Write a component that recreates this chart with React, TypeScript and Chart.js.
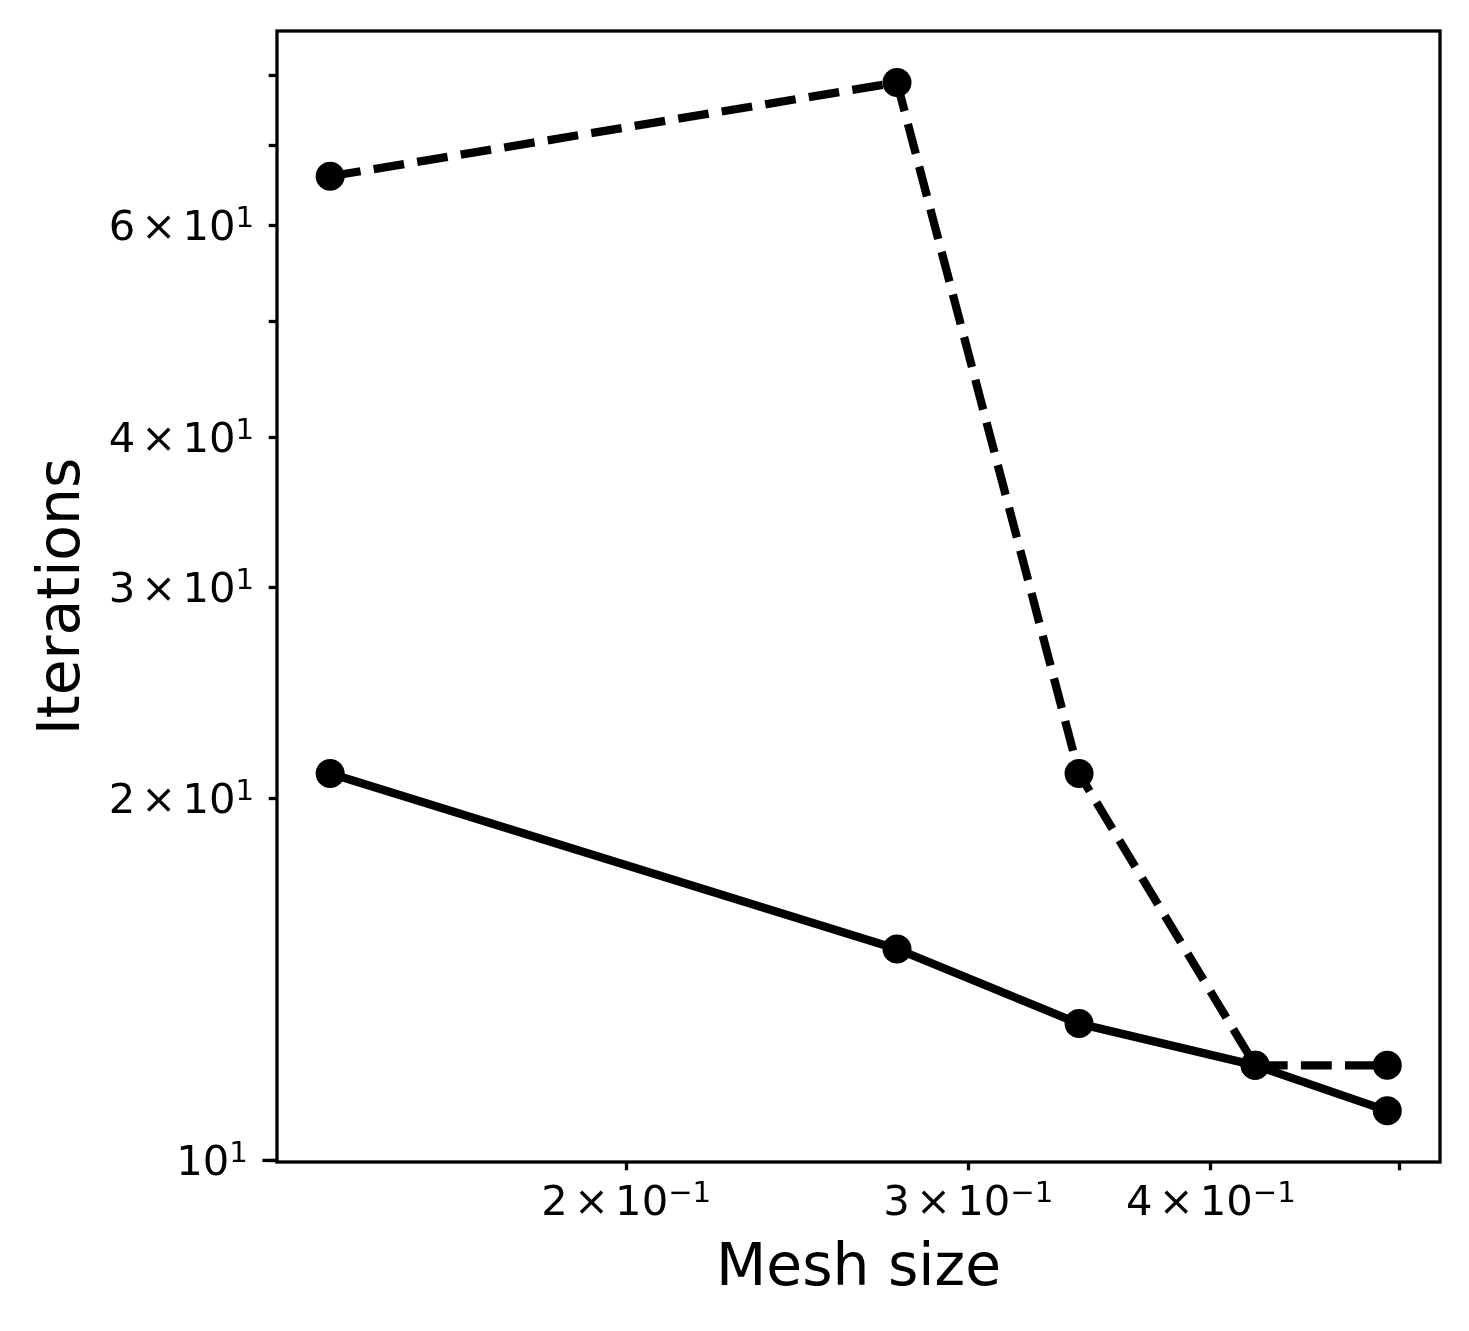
import React, { useEffect, useRef } from 'react';
import { Chart, registerables } from 'chart.js';

Chart.register(...registerables);

// ---- data ----
const meshSizes = [0.1408, 0.2757, 0.3421, 0.4215, 0.493];
const iterationsDashed = [66, 79, 21, 12, 12];
const iterationsSolid = [21, 15, 13, 12, 11];

const xTickValues = [0.2, 0.3, 0.4, 0.5];
const xTickLabels = ['2×10^-1', '3×10^-1', '4×10^-1', ''];
const yTickValues = [10, 20, 30, 40, 50, 60, 70, 80];
const yTickLabels = ['10^1', '2×10^1', '3×10^1', '4×10^1', '', '6×10^1', '', ''];

const xLimits = [0.1322, 0.5248];
const yLimits = [9.97, 87.2];

const xTitle = 'Mesh size';
const yTitle = 'Iterations';

const FONT = "'DejaVu Sans', sans-serif";
const TICK_FONT = 41.7;
const MAJOR_LEN = 14.6;
const MINOR_LEN = 8.3;
const PAD = 14.6;

// draws a label like "2×10^-1" in a mathtext-like way
function drawMathLabel(ctx: CanvasRenderingContext2D, label: string, x: number, baseline: number, align: 'center' | 'right') {
  if (!label) return;
  const [base, expRaw] = label.split('^');
  const exp = (expRaw || '').replace('-', '\u2212');
  const parts = base.split('×');
  const fs = TICK_FONT;
  const ss = fs * 0.7;
  const gap = 6.2;
  const segs: { t?: string; size?: number; dy?: number; gap?: number }[] = [];
  if (parts.length === 2) {
    segs.push({ t: parts[0], size: fs, dy: 0 });
    segs.push({ gap });
    segs.push({ t: '×', size: fs, dy: 0 });
    segs.push({ gap });
    segs.push({ t: parts[1], size: fs, dy: 0 });
  } else {
    segs.push({ t: parts[0], size: fs, dy: 0 });
  }
  if (exp) segs.push({ t: exp, size: ss, dy: -13 });
  let total = 0;
  const widths = segs.map((s) => {
    if (s.gap !== undefined) return s.gap;
    ctx.font = `${s.size}px ${FONT}`;
    return ctx.measureText(s.t as string).width;
  });
  widths.forEach((w) => (total += w));
  let cx = align === 'center' ? x - total / 2 : x - total;
  ctx.textAlign = 'left';
  ctx.textBaseline = 'alphabetic';
  ctx.fillStyle = '#000';
  segs.forEach((s, i) => {
    if (s.t !== undefined) {
      ctx.font = `${s.size}px ${FONT}`;
      ctx.fillText(s.t, cx, baseline + (s.dy || 0));
    }
    cx += widths[i];
  });
}

const framePlugin = {
  id: 'frame',
  afterDraw(chart: any) {
    const { ctx, chartArea } = chart;
    const { left, top, right, bottom } = chartArea;
    ctx.save();
    ctx.strokeStyle = '#000';
    ctx.lineWidth = 3.3;
    ctx.strokeRect(left, top, right - left, bottom - top);
    // major tick marks (powers of ten) are longer
    const ys = chart.scales.y;
    yTickValues.forEach((v) => {
      if (Math.abs(Math.log10(v) - Math.round(Math.log10(v))) < 1e-9) {
        const py = ys.getPixelForValue(v);
        ctx.beginPath();
        ctx.moveTo(left - MAJOR_LEN, py);
        ctx.lineTo(left, py);
        ctx.stroke();
      }
    });
    // tick labels
    const xs = chart.scales.x;
    xTickValues.forEach((v, i) => {
      const px = xs.getPixelForValue(v);
      drawMathLabel(ctx, xTickLabels[i], px, bottom + 53, 'center');
    });
    yTickValues.forEach((v, i) => {
      const py = ys.getPixelForValue(v);
      const isMajor = Math.abs(Math.log10(v) - Math.round(Math.log10(v))) < 1e-9;
      const len = isMajor ? MAJOR_LEN : MINOR_LEN;
      drawMathLabel(ctx, yTickLabels[i], left - len - PAD, py + 14.5, 'right');
    });
    ctx.restore();
  },
};

export default function App() {
  const canvasRef = useRef<HTMLCanvasElement | null>(null);

  useEffect(() => {
    if (!canvasRef.current) return;
    const toPoints = (ys: number[]) => meshSizes.map((x, i) => ({ x, y: ys[i] }));

    const chart = new Chart(canvasRef.current, {
      type: 'line',
      data: {
        datasets: [
          {
            label: 'dashed',
            data: toPoints(iterationsDashed),
            borderColor: '#000',
            backgroundColor: '#000',
            borderWidth: 8.3,
            borderDash: [30.8, 13.3],
            borderCapStyle: 'butt',
            borderJoinStyle: 'round',
            pointRadius: 14.5,
            pointBorderWidth: 0,
            pointBackgroundColor: '#000',
            tension: 0,
            fill: false,
          },
          {
            label: 'solid',
            data: toPoints(iterationsSolid),
            borderColor: '#000',
            backgroundColor: '#000',
            borderWidth: 8.3,
            borderCapStyle: 'square',
            borderJoinStyle: 'round',
            pointRadius: 14.5,
            pointBorderWidth: 0,
            pointBackgroundColor: '#000',
            tension: 0,
            fill: false,
          },
        ],
      },
      options: {
        responsive: false,
        animation: false,
        devicePixelRatio: 1,
        layout: { padding: { top: 31, right: 29, left: 0, bottom: 0 } },
        plugins: {
          legend: { display: false },
          tooltip: { enabled: false },
        },
        scales: {
          x: {
            type: 'logarithmic',
            min: xLimits[0],
            max: xLimits[1],
            afterBuildTicks: (scale: any) => {
              scale.ticks = xTickValues.map((v) => ({ value: v }));
            },
            afterFit: (scale: any) => {
              scale.height = 169;
              scale.paddingLeft = 0;
              scale.paddingRight = 0;
            },
            ticks: {
              display: false,
              autoSkip: false,
              maxRotation: 0,
              minRotation: 0,
              callback: (value: any) => {
                const i = xTickValues.findIndex((v) => Math.abs(v - Number(value)) < 1e-9);
                return i >= 0 ? xTickLabels[i] : '';
              },
            },
            grid: {
              display: true,
              drawOnChartArea: false,
              drawTicks: true,
              tickLength: MINOR_LEN,
              tickWidth: 3.3,
              tickColor: '#000',
              color: '#000',
            },
            border: { display: false },
            title: {
              display: true,
              text: xTitle,
              color: '#000',
              font: { family: FONT, size: 58.3 },
              padding: { top: 0, bottom: 26 },
            },
          },
          y: {
            type: 'logarithmic',
            min: yLimits[0],
            max: yLimits[1],
            afterBuildTicks: (scale: any) => {
              scale.ticks = yTickValues.map((v) => ({ value: v }));
            },
            afterFit: (scale: any) => {
              scale.width = 277;
              scale.paddingTop = 0;
              scale.paddingBottom = 0;
            },
            ticks: {
              display: false,
              autoSkip: false,
              callback: (value: any) => {
                const i = yTickValues.findIndex((v) => Math.abs(v - Number(value)) < 1e-9);
                return i >= 0 ? yTickLabels[i] : '';
              },
            },
            grid: {
              display: true,
              drawOnChartArea: false,
              drawTicks: true,
              tickLength: MINOR_LEN,
              tickWidth: 3.3,
              tickColor: '#000',
              color: '#000',
            },
            border: { display: false },
            title: {
              display: true,
              text: yTitle,
              color: '#000',
              font: { family: FONT, size: 58.3 },
              padding: { top: 29, bottom: 0 },
            },
          },
        },
      },
      plugins: [framePlugin],
    });

    return () => chart.destroy();
  }, []);

  return (
    <div style={{ position: 'absolute', left: 0, top: 0, width: 1469, height: 1331, background: '#fff' }}>
      <canvas ref={canvasRef} width={1469} height={1331} style={{ width: 1469, height: 1331, display: 'block' }} />
    </div>
  );
}
